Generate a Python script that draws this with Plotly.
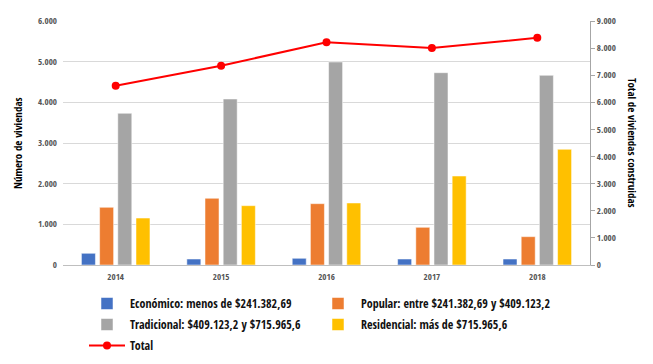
import plotly.graph_objects as go

years = ["2014", "2015", "2016", "2017", "2018"]
economico = [288, 147, 165, 147, 147]
popular = [1419, 1640, 1508, 927, 697]
tradicional = [3730, 4082, 4992, 4729, 4664]
residencial = [1155, 1459, 1525, 2188, 2845]
total = [6610, 7350, 8220, 8000, 8380]

names = ["Económico: menos de $241.382,69", "Popular: entre $241.382,69 y $409.123,2",
         "Tradicional: $409.123,2 y $715.965,6", "Residencial: más de $715.965,6"]
colors = ["#4472C4", "#ED7D31", "#A5A5A5", "#FFC000"]
legends = ["legend", "legend2", "legend", "legend2"]
FONT = "Open Sans Condensed, DejaVu Sans Condensed, sans-serif"

W, H = 645, 356  # page body has an 8px margin

fig = go.Figure()
for i, (name, vals, col, lg) in enumerate(zip(names, [economico, popular, tradicional, residencial], colors, legends)):
    fig.add_trace(go.Bar(x=years, y=vals, name=name, legend=lg, legendgroup=f"g{i}",
                         marker=dict(color=col, line=dict(color="rgba(255,255,255,0.5)", width=1))))
fig.add_trace(go.Scatter(x=years, y=total, name="Total", mode="lines+markers", yaxis="y2",
                         legend="legend", legendgroup="g5",
                         line=dict(color="#FF0000", width=2), marker=dict(color="#FF0000", size=8)))

leg_common = dict(orientation="v", xref="container", yref="container", xanchor="left", yanchor="top",
                  y=1 - 281 / H, font=dict(size=12, color="#111"), traceorder="grouped",
                  tracegroupgap=2, itemwidth=36, bgcolor="rgba(0,0,0,0)")

fig.update_layout(
    width=W, height=H,
    margin=dict(l=55, r=63, t=13, b=99, autoexpand=False),
    paper_bgcolor="white", plot_bgcolor="white",
    separators=",.",
    barmode="group", bargap=0.31, bargroupgap=0.23,
    font=dict(family=FONT, size=9, color="#222222"),
    xaxis=dict(showline=True, linecolor="#BFBFBF", linewidth=1, ticks="", automargin=False,
               ticklabelstandoff=3, tickfont=dict(size=9, color="#555")),
    yaxis=dict(range=[0, 6000], dtick=1000, tickformat=",d", showgrid=True, gridcolor="#D9D9D9", gridwidth=1,
               zeroline=False, showline=False, automargin=False, ticklabelstandoff=5,
               tickfont=dict(size=9, color="#555")),
    yaxis2=dict(range=[0, 9000], dtick=1000, tickformat=",d", overlaying="y", side="right", showgrid=False,
                zeroline=False, showline=True, linecolor="#A6A6A6", linewidth=1, ticks="outside", ticklen=4,
                tickcolor="#A6A6A6", automargin=False, tickfont=dict(size=9, color="#555")),
    legend=dict(x=76 / W, **leg_common),
    legend2=dict(x=307 / W, **leg_common),
    showlegend=True,
)
fig.add_annotation(text="Número de viviendas", xref="paper", yref="paper", x=0, xshift=-46,
                   xanchor="center", yanchor="middle",
                   y=0.5, textangle=-90, showarrow=False, font=dict(size=11, color="#000"))
fig.add_annotation(text="Total de viviendas construidas", xref="paper", yref="paper", x=1, xshift=43,
                   xanchor="center", yanchor="middle",
                   y=0.5, textangle=90, showarrow=False, font=dict(size=11, color="#000"))
fig.write_html("out.html")
